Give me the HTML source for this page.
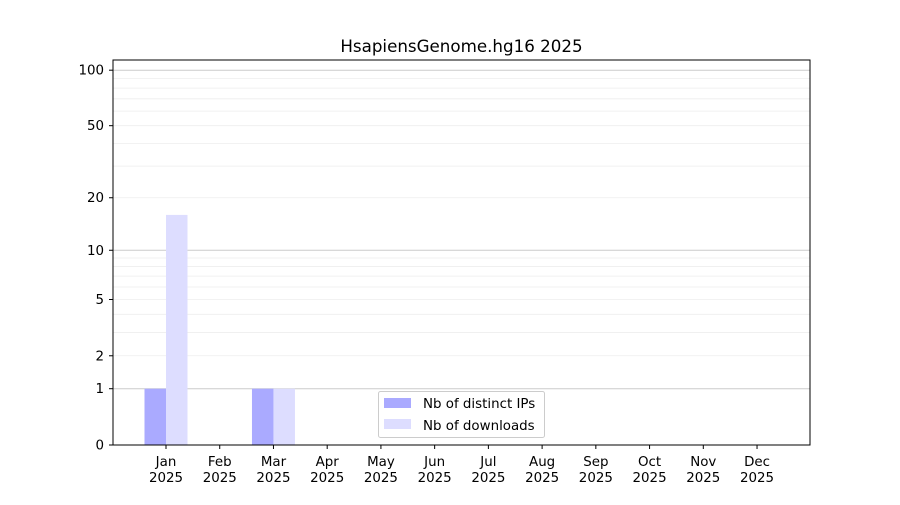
<!DOCTYPE html>
<html><head><meta charset="utf-8"><style>
html,body{margin:0;padding:0;background:#fff;}
text{font-family:"DejaVu Sans","Liberation Sans",sans-serif;font-size:13.4px;fill:#000;}
</style></head><body>
<svg width="900" height="500" xmlns="http://www.w3.org/2000/svg">
<rect width="900" height="500" fill="#fff"/>
<g id="grid"></g>
<g id="bars"></g>
<g id="ticks"></g>
<rect x="113" y="60" width="697" height="385" fill="none" stroke="#000" stroke-width="1"/>
<text x="461.5" y="52" text-anchor="middle" style="font-size:16.7px">HsapiensGenome.hg16 2025</text>
<g>
<rect x="378.5" y="391.5" width="166" height="46" rx="2" fill="#fff" fill-opacity="0.8" stroke="#ccc"/>
<rect x="384" y="398" width="27" height="10" fill="#aaaaff"/>
<text x="423" y="408">Nb of distinct IPs</text>
<rect x="384" y="419" width="27" height="10" fill="#ddddff"/>
<text x="423" y="430">Nb of downloads</text>
</g>
</svg>
<script>
const ns="http://www.w3.org/2000/svg";
function Y(v){return 445-Math.log10(1+v)*187;}
function el(p,t,a,txt){const e=document.createElementNS(ns,t);for(const k in a)e.setAttribute(k,a[k]);if(txt!==undefined)e.textContent=txt;document.getElementById(p).appendChild(e);return e;}
let minors=[];for(let d of [1,10])for(let i=2;i<=9;i++)minors.push(i*d);
minors.forEach(v=>{const y=Y(v);el("grid","line",{x1:113,x2:810,y1:y,y2:y,stroke:"#eeeeee","stroke-width":0.8});});
[1,10,100].forEach(v=>{const y=Y(v);el("grid","line",{x1:113,x2:810,y1:y,y2:y,stroke:"#cccccc","stroke-width":1});});
[0,1,2,5,10,20,50,100].forEach(v=>{const y=Y(v);el("ticks","line",{x1:109,x2:113,y1:y,y2:y,stroke:"#000"});el("ticks","text",{x:104,y:y+4.5,"text-anchor":"end"},v);});
const m=["Jan","Feb","Mar","Apr","May","Jun","Jul","Aug","Sep","Oct","Nov","Dec"];
const ip=[1,0,1,0,0,0,0,0,0,0,0,0],dl=[16,0,1,0,0,0,0,0,0,0,0,0];
m.forEach((n,i)=>{const c=166+i*53.73;
if(ip[i]>0)el("bars","rect",{x:c-21.5,y:Y(ip[i]),width:21.5,height:445-Y(ip[i]),fill:"#aaaaff"});
if(dl[i]>0)el("bars","rect",{x:c,y:Y(dl[i]),width:21.5,height:445-Y(dl[i]),fill:"#ddddff"});
el("ticks","line",{x1:c,x2:c,y1:445,y2:449,stroke:"#000"});
el("ticks","text",{x:c,y:466,"text-anchor":"middle"},n);
el("ticks","text",{x:c,y:482,"text-anchor":"middle"},"2025");});
</script>
</body></html>
